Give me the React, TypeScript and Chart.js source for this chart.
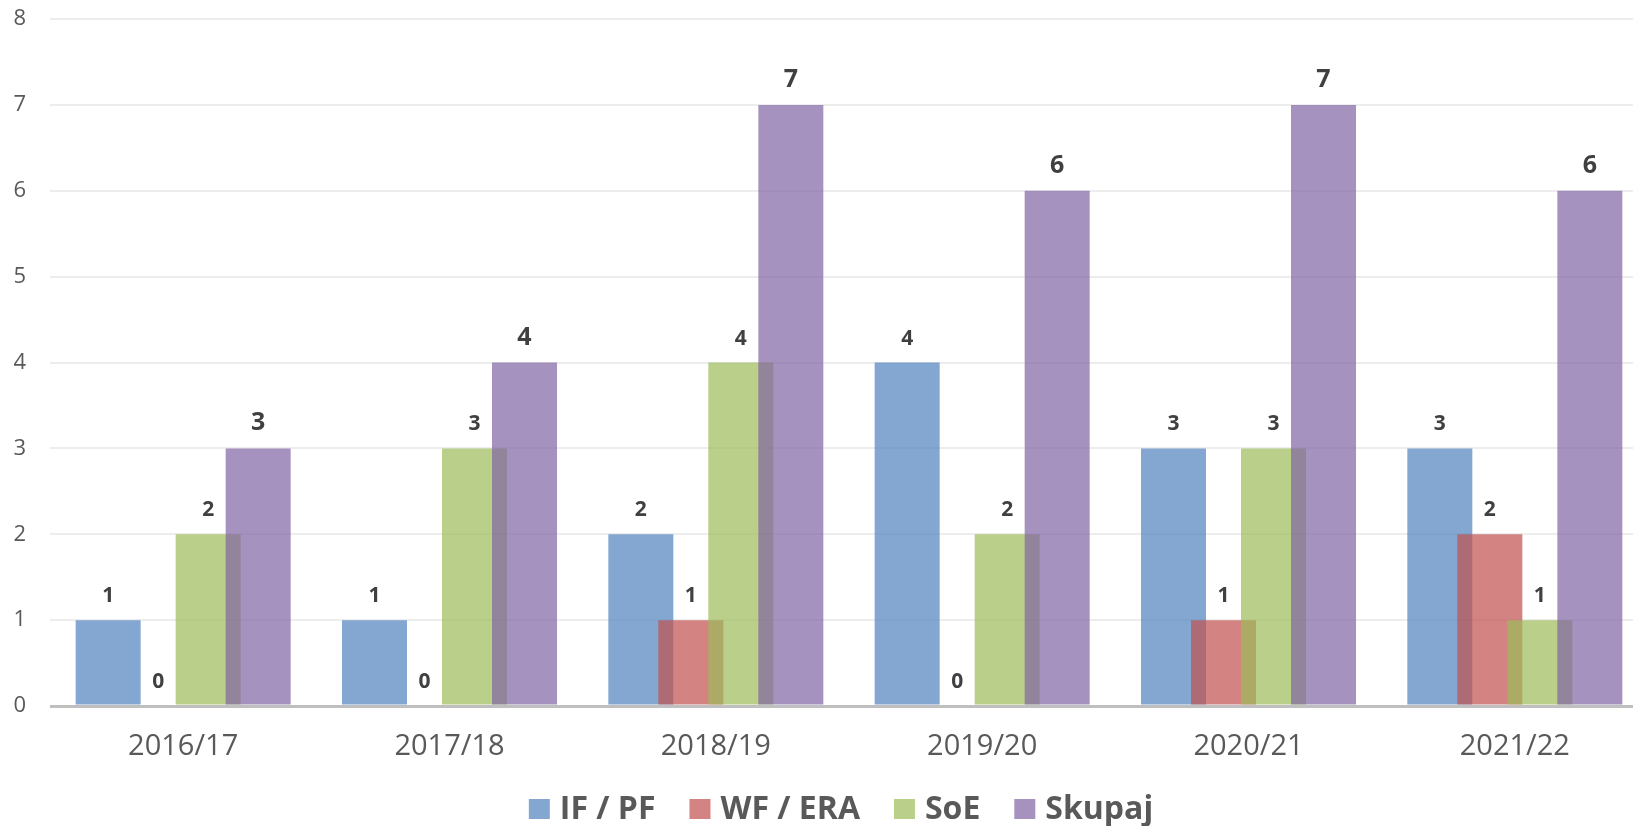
import React, { useEffect, useRef } from "react";
import { Chart, registerables } from "chart.js";

Chart.register(...registerables);

const categories = ["2016/17", "2017/18", "2018/19", "2019/20", "2020/21", "2021/22"];
const seriesNames = ["IF / PF", "WF / ERA", "SoE", "Skupaj"];
const ifPf = [1, 1, 2, 4, 3, 3];
const wfEra = [0, 0, 1, 0, 1, 2];
const soe = [2, 3, 4, 2, 3, 1];
const skupaj = [3, 4, 7, 6, 7, 6];
const seriesColors = [
  "rgba(79,129,189,0.7)",
  "rgba(192,80,77,0.7)",
  "rgba(155,187,89,0.7)",
  "rgba(128,100,162,0.7)",
];
const yMin = 0;
const yMax = 8;
const yStep = 1;

const FONT = '"Open Sans", "Noto Sans", sans-serif';

const orderedDraw = {
  id: "orderedDraw",
  beforeDatasetsDraw(chart: any) {
    chart.data.datasets.forEach((_: any, i: number) => {
      const meta = chart.getDatasetMeta(i);
      if (!meta.hidden) meta.controller.draw();
    });
    return false;
  },
};

const labelsAndLegend = {
  id: "labelsAndLegend",
  afterDraw(chart: any) {
    const ctx = chart.ctx;
    ctx.save();
    // data labels
    ctx.textAlign = "center";
    ctx.textBaseline = "alphabetic";
    ctx.fillStyle = "#404040";
    chart.data.datasets.forEach((ds: any, i: number) => {
      const meta = chart.getDatasetMeta(i);
      ctx.font = i === 3 ? `bold 25px ${FONT}` : `bold 21px ${FONT}`;
      meta.data.forEach((el: any, j: number) => {
        ctx.fillText(String(ds.data[j]), el.x, el.y - 18);
      });
    });
    // legend
    ctx.font = `bold 32px ${FONT}`;
    ctx.textAlign = "left";
    const boxW = 21;
    const boxH = 20;
    const gapBoxText = 10;
    const gapItems = 34;
    const widths = chart.data.datasets.map((ds: any) => ctx.measureText(ds.label).width);
    const total =
      widths.reduce((a: number, b: number) => a + b + boxW + gapBoxText, 0) +
      gapItems * (widths.length - 1);
    let x = 841 - total / 2;
    const baseline = 819;
    chart.data.datasets.forEach((ds: any, i: number) => {
      ctx.fillStyle = ds.backgroundColor;
      ctx.fillRect(x, baseline - boxH, boxW, boxH);
      x += boxW + gapBoxText;
      ctx.fillStyle = "#595959";
      ctx.fillText(ds.label, x, baseline);
      x += widths[i] + gapItems;
    });
    ctx.restore();
  },
};

export default function App() {
  const ref = useRef<HTMLCanvasElement | null>(null);
  useEffect(() => {
    if (!ref.current) return;
    const values = [ifPf, wfEra, soe, skupaj];
    const chart = new Chart(ref.current, {
      type: "bar",
      data: {
        labels: categories,
        datasets: values.map((v, i) => ({
          label: seriesNames[i],
          data: v,
          backgroundColor: seriesColors[i],
          borderWidth: 0,
          barPercentage: 1.3,
          categoryPercentage: 0.751,
        })),
      },
      options: {
        animation: false,
        responsive: false,
        devicePixelRatio: 1,
        layout: { padding: { top: 19, bottom: 60, left: 0, right: 0 } },
        plugins: {
          legend: { display: false },
          tooltip: { enabled: false },
        },
        scales: {
          x: {
            grid: { display: false },
            border: { display: false },
            ticks: {
              color: "#595959",
              font: { family: FONT, size: 29 },
              padding: 15,
              maxRotation: 0,
            },
            afterFit: (s: any) => {
              s.height = 60;
            },
          },
          y: {
            min: yMin,
            max: yMax,
            border: { display: false },
            grid: {
              drawTicks: false,
              color: (c: any) => (c.tick && c.tick.value === 0 ? "#BFBFBF" : "#EDEDED"),
              lineWidth: (c: any) => (c.tick && c.tick.value === 0 ? 3 : 2),
            },
            ticks: {
              stepSize: yStep,
              color: "#595959",
              font: { family: FONT, size: 22 },
              padding: 24,
            },
            afterFit: (s: any) => {
              s.width = 50;
              s.paddingTop = 0;
              s.paddingBottom = 0;
            },
          },
        },
      },
      plugins: [orderedDraw, labelsAndLegend],
    });
    return () => chart.destroy();
  }, []);
  return (
    <div
      style={{
        position: "fixed",
        left: 0,
        top: 0,
        width: 1633,
        height: 826,
        overflow: "hidden",
        background: "#fff",
      }}
    >
      <canvas ref={ref} width={1648} height={826} style={{ display: "block" }} />
    </div>
  );
}
